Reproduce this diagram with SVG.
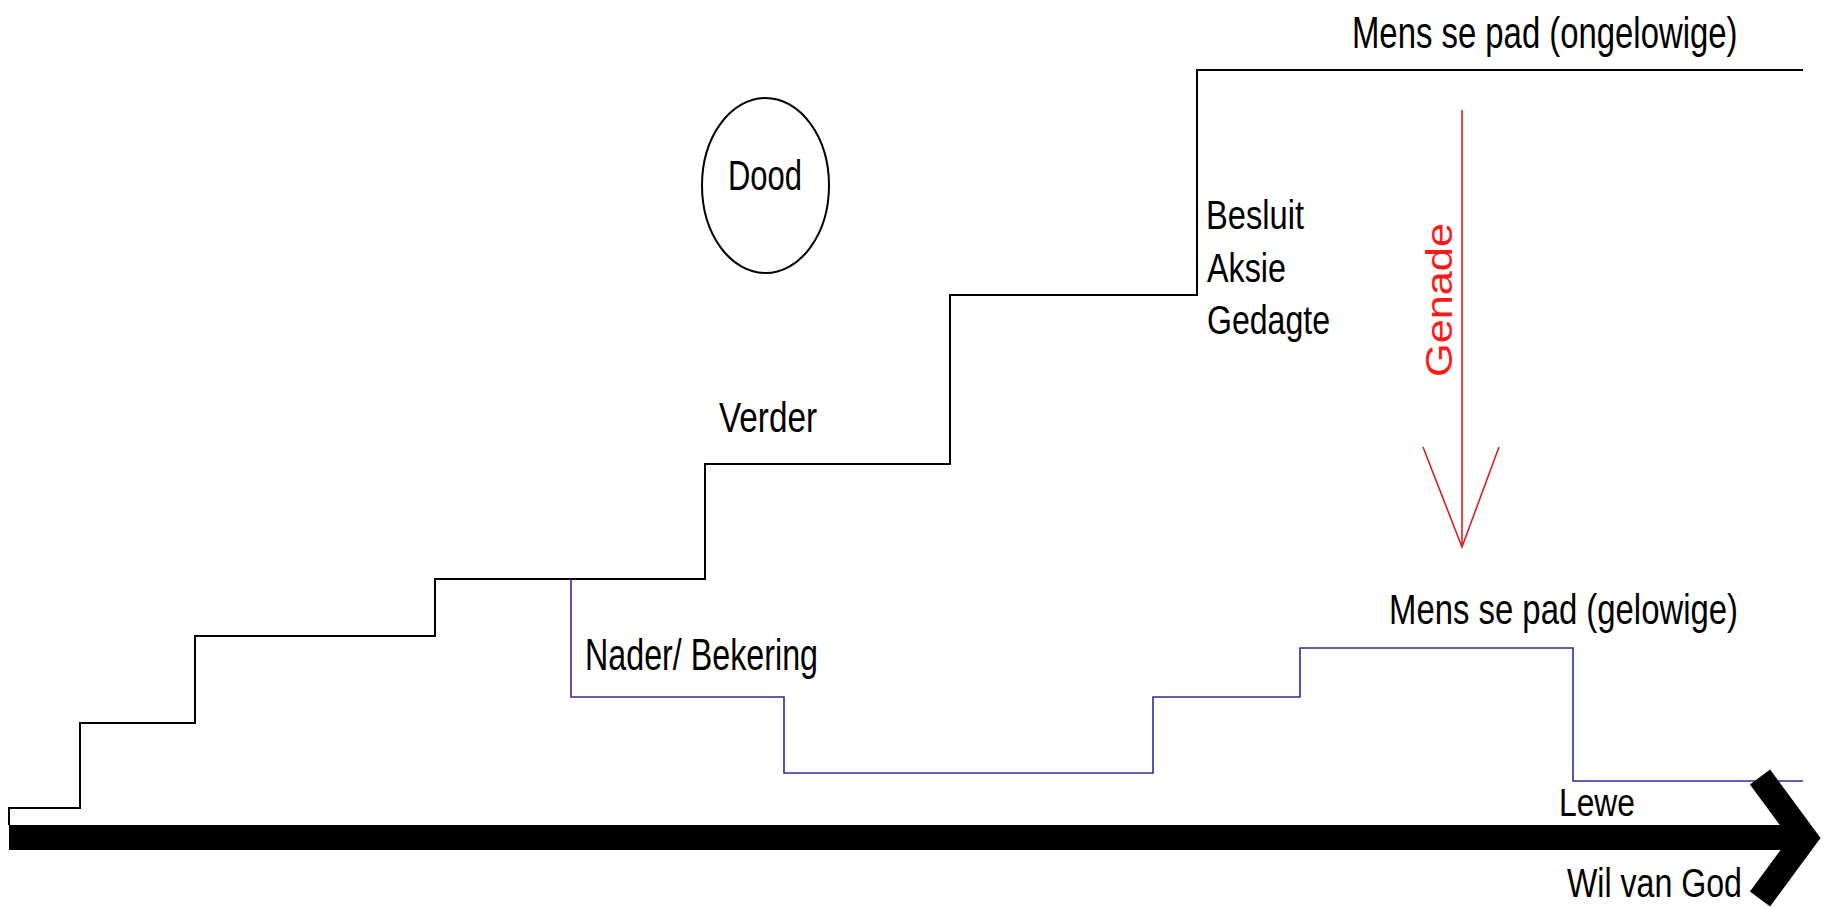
<svg xmlns="http://www.w3.org/2000/svg" width="1826" height="909" viewBox="0 0 1826 909">
<style>
  text { font-family: "Liberation Sans", Arial, sans-serif; fill: #000; }
  .blk { fill: none; stroke: #000; stroke-width: 2; }
  .blu { fill: none; stroke: #2b2b9e; stroke-width: 1.6; }
  .red { fill: none; stroke: #d62020; stroke-width: 1.6; }
</style>
<rect width="1826" height="909" fill="#fff"/>
<g id="connectors">
  <path id="path-ongelowige" class="blk" d="M9,825 V808 H80 V723 H195 V636 H435 V579 H705 V464 H950 V295 H1197 V70 H1803"/>
  <path id="path-gelowige" class="blu" d="M571,579 V697 H784 V773 H1153 V697 H1300 V648 H1573 V781 H1803"/>
  <g id="genade-arrow">
    <line class="red" x1="1462" y1="110" x2="1462" y2="547"/>
    <polyline class="red" points="1423,447 1462,547 1499,447"/>
  </g>
  <g id="wil-van-god-arrow">
    <rect x="9" y="825" width="1792" height="25" fill="#000"/>
    <polyline points="1760,777 1805,838 1760,899" fill="none" stroke="#000" stroke-width="25" stroke-linejoin="miter" stroke-miterlimit="10"/>
  </g>
</g>
<g id="dood">
  <ellipse cx="765.5" cy="185.5" rx="63.5" ry="87.5" fill="none" stroke="#000" stroke-width="2"/>
  <text x="728" y="190" font-size="43" textLength="74" lengthAdjust="spacingAndGlyphs">Dood</text>
</g>
<g id="label-ongelowige">
  <text transform="translate(1352,48) scale(0.747,1)" font-size="44">Mens se pad (ongelowige)</text>
</g>
<g id="label-verder">
  <text x="719" y="432" font-size="42" textLength="98" lengthAdjust="spacingAndGlyphs">Verder</text>
</g>
<g id="label-besluit">
  <text x="1206" y="229" font-size="40" textLength="98" lengthAdjust="spacingAndGlyphs">Besluit</text>
  <text x="1207" y="282" font-size="40" textLength="79" lengthAdjust="spacingAndGlyphs">Aksie</text>
  <text x="1207" y="334" font-size="40" textLength="123" lengthAdjust="spacingAndGlyphs">Gedagte</text>
</g>
<g id="label-genade">
  <text transform="translate(1452,377) rotate(-90)" font-size="37" style="fill:#ff1a1a" textLength="154" lengthAdjust="spacingAndGlyphs">Genade</text>
</g>
<g id="label-nader">
  <text x="585" y="670" font-size="44" textLength="233" lengthAdjust="spacingAndGlyphs">Nader/ Bekering</text>
</g>
<g id="label-gelowige">
  <text transform="translate(1389,624) scale(0.783,1)" font-size="42">Mens se pad (gelowige)</text>
</g>
<g id="label-lewe">
  <text x="1559" y="816" font-size="38" textLength="76" lengthAdjust="spacingAndGlyphs">Lewe</text>
</g>
<g id="label-wil">
  <text x="1567" y="897" font-size="40" textLength="175" lengthAdjust="spacingAndGlyphs">Wil van God</text>
</g>
</svg>
